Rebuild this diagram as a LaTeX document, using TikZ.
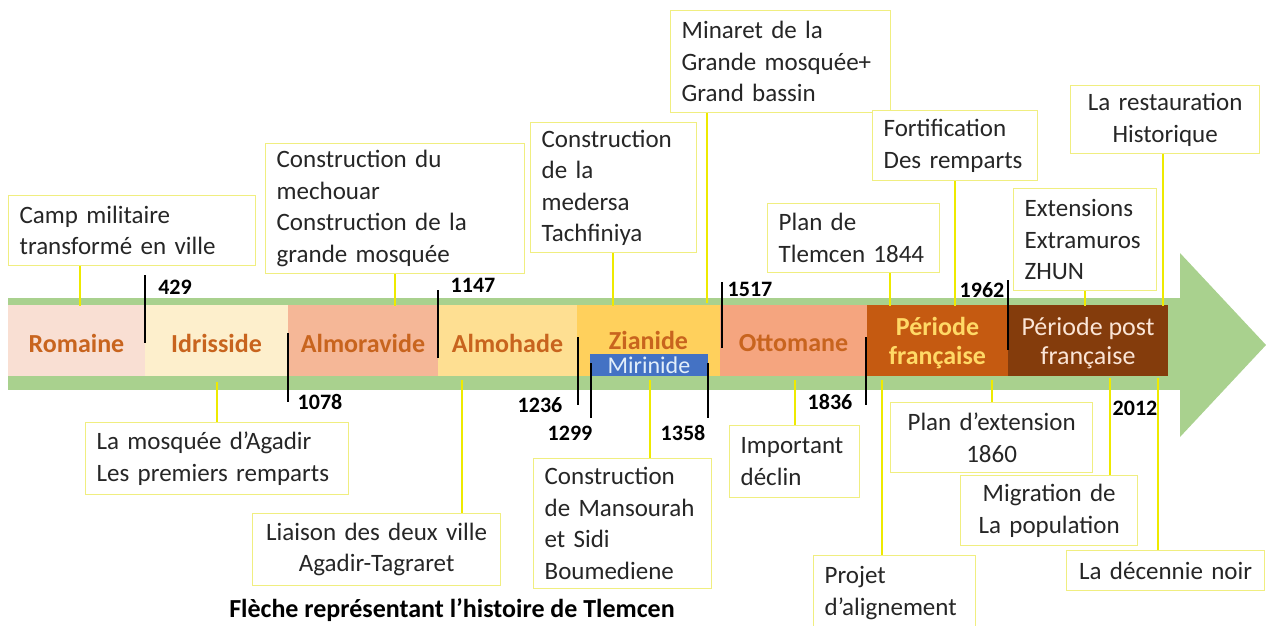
\documentclass[tikz,border=0pt]{standalone}
\usepackage{fontspec}
\setmainfont{Carlito}
\definecolor{grn}{HTML}{A9D18E}
\definecolor{cRom}{HTML}{F9DFD3}
\definecolor{cIdr}{HTML}{FDEFCC}
\definecolor{cAlmv}{HTML}{F5B797}
\definecolor{cAlmh}{HTML}{FEDF92}
\definecolor{cZia}{HTML}{FFD05C}
\definecolor{cOtt}{HTML}{F5A57F}
\definecolor{cFr}{HTML}{C55A11}
\definecolor{cPost}{HTML}{843C0C}
\definecolor{perc}{HTML}{C8641E}
\definecolor{frtext}{HTML}{FFD966}
\definecolor{posttext}{HTML}{FBE5D6}
\definecolor{mirblue}{HTML}{4472C4}
\definecolor{mirtext}{HTML}{E2EEFA}
\definecolor{boxc}{HTML}{F0EE80}
\definecolor{connc}{HTML}{EEEA00}
\definecolor{txtc}{HTML}{262626}
\newcommand\bxfont{\fontsize{25}{31.5}\selectfont}
\newcommand\sgfont{\fontsize{26}{29}\selectfont\bfseries}
\newcommand\sgfontr{\fontsize{26}{29}\selectfont}
\newcommand\yrfnt{\fontsize{22}{24}\selectfont\bfseries}
\newcommand\ttlfont{\fontsize{26}{28}\selectfont\bfseries}
\newcommand\mrfont{\fontsize{24}{25}\selectfont}
\begin{document}
\begin{tikzpicture}[x=1pt,y=-1pt,
  evbox/.style={draw=boxc, fill=white, line width=1.3pt, inner xsep=11pt, inner ysep=2pt, anchor=north west, font=\bxfont, text=txtc, align=left},
  evboxc/.style={evbox, align=center},
  conn/.style={draw=connc, line width=1.6pt},
  tickln/.style={draw=black, line width=2pt},
  yr/.style={font=\yrfnt, inner sep=0pt, text=black},
  seglab/.style={font=\sgfont, inner sep=0pt, text=perc, align=center}]
\useasboundingbox (0,0) rectangle (1266,625);
% arrow
\fill[grn] (8,298) rectangle (1180,390);
\fill[grn] (1180,253) -- (1266,345) -- (1180,437) -- cycle;
% segments
\fill[cRom]  (8,305) rectangle (145,376);
\fill[cIdr]  (145,305) rectangle (288,376);
\fill[cAlmv] (288,305) rectangle (438,376);
\fill[cAlmh] (438,305) rectangle (577,376);
\fill[cZia]  (577,305) rectangle (720,376);
\fill[cOtt]  (720,305) rectangle (867,376);
\fill[cFr]   (867,305) rectangle (1008,376);
\fill[cPost] (1008,305) rectangle (1168,376);
\node[seglab] (rom) at (76.5,343) {Romaine};
\node[seglab] (idr) at (216.5,343) {Idrisside};
\node[seglab] (almv) at (363,343) {Almoravide};
\node[seglab] (almh) at (507.5,343) {Almohade};
\node[seglab] (zia) at (648.5,340) {Zianide};
\node[seglab] (ott) at (793.5,343) {Ottomane};
\node[seglab, text=frtext] (fr) at (937.5,343) {Période\\française};
\node[seglab, font=\sgfontr, text=posttext] (post) at (1088,343) {Période post\\française};
\node[fill=mirblue, minimum width=118pt, minimum height=22pt, inner sep=0pt, text=mirtext, font=\mrfont] (mir) at (649,365) {Mirinide};
% ticks
\coordinate (t1a) at (145,275); \coordinate (t1b) at (145,343);
\coordinate (t2a) at (288,333); \coordinate (t2b) at (288,402);
\coordinate (t3a) at (438,290); \coordinate (t3b) at (438,358);
\coordinate (t4a) at (578,337); \coordinate (t4b) at (578,405);
\coordinate (t5a) at (591,363); \coordinate (t5b) at (591,418);
\coordinate (t6a) at (708,363); \coordinate (t6b) at (708,418);
\coordinate (t7a) at (722,282); \coordinate (t7b) at (722,348);
\coordinate (t8a) at (866,337); \coordinate (t8b) at (866,405);
\coordinate (t9a) at (1008,280); \coordinate (t9b) at (1008,350);
\foreach \i in {1,...,9} {\draw[tickln] (t\i a) -- (t\i b);}
\node[yr] (y429) at (175,287) {429};
\node[yr] (y1078) at (320,402) {1078};
\node[yr] (y1147) at (473,285) {1147};
\node[yr] (y1236) at (540,405) {1236};
\node[yr] (y1299) at (570,433) {1299};
\node[yr] (y1358) at (683,433) {1358};
\node[yr] (y1517) at (750,289) {1517};
\node[yr] (y1836) at (830,402) {1836};
\node[yr] (y1962) at (982,290) {1962};
\node[yr] (y2012) at (1135,408) {2012};
% top boxes
\node[evbox, text width=225pt, minimum height=70pt] (b1) at (8,195) {Camp~militaire\\transformé~en~ville};
\node[evbox, text width=237pt, minimum height=130pt] (b2) at (265,143) {Construction~du\\mechouar\\Construction~de~la\\grande~mosquée};
\node[evbox, text width=144pt, minimum height=130pt] (b3) at (530,122) {Construction\\de~la\\medersa\\Tachfiniya};
\node[evbox, text width=198pt, minimum height=102pt] (b4) at (670,10) {Minaret~de~la\\Grande~mosquée+\\Grand~bassin};
\node[evbox, text width=150pt, minimum height=69pt] (b5) at (767,203) {Plan~de\\Tlemcen~1844};
\node[evbox, text width=143pt, minimum height=70pt] (b6) at (872,110) {Fortification\\Des~remparts};
\node[evboxc, text width=167pt, minimum height=68pt] (b7) at (1070,85) {La~restauration\\Historique};
\node[evbox, text width=121pt, minimum height=102pt] (b8) at (1013,188) {Extensions\\Extramuros\\ZHUN};
% bottom boxes
\node[evbox, text width=241pt, minimum height=72pt] (b9) at (85,422) {La~mosquée~d’Agadir\\Les~premiers~remparts};
\node[evboxc, text width=226pt, minimum height=72pt] (b10) at (252,513) {Liaison~des~deux~ville\\Agadir-Tagraret};
\node[evbox, text width=156pt, minimum height=130pt] (b11) at (533,458) {Construction\\de~Mansourah\\et~Sidi\\Boumediene};
\node[evbox, text width=108pt, minimum height=72pt] (b12) at (729,425) {Important\\déclin};
\node[evbox, text width=140pt, minimum height=75pt] (b13) at (813,555) {Projet\\d’alignement};
\node[evboxc, text width=180pt, minimum height=70pt] (b14) at (890,402) {Plan~d’extension\\1860};
\node[evboxc, text width=155pt, minimum height=70pt] (b15) at (960,475) {Migration~de\\La~population};
\node[evboxc, text width=176pt, minimum height=40pt] (b16) at (1066,550) {La~décennie~noir};
% connectors top
\coordinate (k1) at (80,306);
\coordinate (k2) at (395,306);
\coordinate (k3) at (613,306);
\coordinate (k4) at (707,303);
\coordinate (k5) at (890,306);
\coordinate (k6) at (955,306);
\coordinate (k7) at (1163,306);
\coordinate (k8) at (1085,306);
\foreach \i in {1,...,8} {\draw[conn] (b\i.south -| k\i) -- (k\i);}
% connectors bottom
\coordinate (k9) at (217,382);
\coordinate (k10) at (462,380);
\coordinate (k11) at (650,380);
\coordinate (k12) at (795,380);
\coordinate (k13) at (882,380);
\coordinate (k14) at (992,380);
\coordinate (k15) at (1110,378);
\coordinate (k16) at (1158,378);
\foreach \i in {9,...,16} {\draw[conn] (k\i) -- (b\i.north -| k\i);}
% title
\node[font=\ttlfont, anchor=base, inner sep=0pt] (title) at (452,617) {Flèche représentant l’histoire de Tlemcen};
\end{tikzpicture}
\end{document}
